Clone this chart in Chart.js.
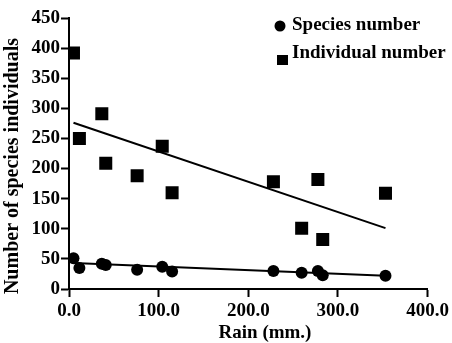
<!DOCTYPE html>
<html>
<head>
<meta charset="utf-8">
<script src="https://cdn.jsdelivr.net/npm/chart.js@4"></script>
<style>
  html, body { margin: 0; padding: 0; background: #fff; }
  #wrap { width: 452px; height: 343px; }
</style>
</head>
<body>
<div id="wrap"><canvas id="chart" width="452" height="343"></canvas></div>
<script>
// Values
const rain = [5, 11.6, 36.6, 41, 76, 104, 115, 228, 259.5, 277.6, 283, 353];
const speciesNumber = [51, 35, 42, 40, 32, 37, 29, 30, 27, 30, 23, 22];
const individualNumber = [392, 250, 291, 209, 188, 237, 160, 178, 101, 182, 82, 159];

// Fitted lines, end points
const trendRain = [5, 353];
const speciesTrend = [43, 22];
const individualTrend = [276, 101];

const FONT = "'Liberation Serif', 'Times New Roman', serif";
const toPoints = (xs, ys) => xs.map((x, i) => ({ x, y: ys[i] }));

// Axis titles and the inset legend are drawn by hand so they sit where the
// reference puts them (both are a bit off-centre there).
const annotations = {
  id: "annotations",
  afterDraw(chart) {
    const { ctx, chartArea } = chart;
    ctx.save();
    ctx.fillStyle = "#000";
    ctx.textBaseline = "middle";

    ctx.font = `bold 19px ${FONT}`;
    ctx.textAlign = "center";
    ctx.fillText("Rain (mm.)", chartArea.left + 196, 333);

    ctx.save();
    ctx.translate(13, 166);
    ctx.rotate(-Math.PI / 2);
    ctx.font = `bold 20px ${FONT}`;
    ctx.fillText("Number of species individuals", 0, 0);
    ctx.restore();

    // legend
    ctx.textAlign = "left";
    ctx.font = `bold 19px ${FONT}`;
    ctx.beginPath();
    ctx.arc(280, 26, 5.5, 0, Math.PI * 2);
    ctx.fill();
    ctx.fillText(chart.data.datasets[0].label, 292, 25);
    ctx.fillRect(277, 55, 11, 10);
    ctx.fillText(chart.data.datasets[1].label, 292, 53);
    ctx.restore();
  },
};

new Chart(document.getElementById("chart"), {
  type: "scatter",
  data: {
    datasets: [
      {
        label: "Species number",
        data: toPoints(rain, speciesNumber),
        pointStyle: "circle",
        pointRadius: 6,
        backgroundColor: "#000",
        borderColor: "#000",
        borderWidth: 0,
      },
      {
        label: "Individual number",
        data: toPoints(rain, individualNumber),
        pointStyle: "rect",
        pointRadius: 9.2,
        backgroundColor: "#000",
        borderColor: "#000",
        borderWidth: 0,
      },
      {
        label: "species fit",
        type: "line",
        data: toPoints(trendRain, speciesTrend),
        borderColor: "#000",
        borderWidth: 2,
        pointRadius: 0,
      },
      {
        label: "individual fit",
        type: "line",
        data: toPoints(trendRain, individualTrend),
        borderColor: "#000",
        borderWidth: 2,
        pointRadius: 0,
      },
    ],
  },
  options: {
    responsive: false,
    animation: false,
    layout: { padding: { top: 18, right: 20, left: 0, bottom: 0 } },
    plugins: { legend: { display: false }, tooltip: { enabled: false } },
    scales: {
      x: {
        type: "linear",
        min: 0,
        max: 400,
        afterFit: (scale) => { scale.height = 54; },
        border: { display: true, color: "#000", width: 2 },
        grid: { drawOnChartArea: false, drawTicks: true, tickLength: 8, color: "#000", tickWidth: 2 },
        ticks: {
          stepSize: 100,
          padding: 3,
          color: "#000",
          font: { family: FONT, size: 19, weight: "bold" },
          callback: (v) => Number(v).toFixed(1),
        },
      },
      y: {
        type: "linear",
        min: 0,
        max: 450,
        afterFit: (scale) => { scale.width = 69; },
        border: { display: true, color: "#000", width: 2 },
        grid: { drawOnChartArea: false, drawTicks: true, tickLength: 8, color: "#000", tickWidth: 2 },
        ticks: {
          stepSize: 50,
          padding: 1,
          color: "#000",
          font: { family: FONT, size: 19, weight: "bold" },
        },
      },
    },
  },
  plugins: [annotations],
});
</script>
</body>
</html>
